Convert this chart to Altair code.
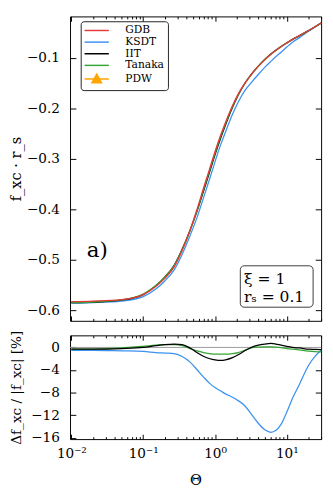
import altair as alt
import pandas as pd

# ---------------- data ----------------
theta = [0.01, 0.02, 0.05, 0.1, 0.15, 0.2, 0.27, 0.35, 0.45, 0.56, 0.7, 0.85,
         1.0, 1.2, 1.4, 1.75, 2.1, 2.6, 3.2, 4.0, 5.0, 6.0, 7.0, 8.3, 10, 12, 15, 20, 25, 30]
gdb = [-0.583, -0.582, -0.579, -0.569, -0.553, -0.537, -0.514, -0.481, -0.441, -0.401, -0.356, -0.318,
       -0.286, -0.253, -0.228, -0.195, -0.172, -0.150, -0.133, -0.117, -0.103, -0.093, -0.0855, -0.078,
       -0.0705, -0.0635, -0.056, -0.046, -0.038, -0.031]
ksdt = [-0.586, -0.585, -0.582, -0.573, -0.558, -0.542, -0.520, -0.489, -0.452, -0.417, -0.375, -0.338,
        -0.306, -0.272, -0.247, -0.212, -0.188, -0.165, -0.149, -0.133, -0.118, -0.107, -0.098, -0.089,
        -0.0785, -0.069, -0.060, -0.0475, -0.0386, -0.0312]
iit = [-0.585, -0.584, -0.580, -0.569, -0.5513, -0.5343, -0.5109, -0.4786, -0.4414, -0.4046, -0.3617,
       -0.3244, -0.2923, -0.2588, -0.2330, -0.1985, -0.1742, -0.1509, -0.133, -0.1165, -0.1024, -0.0923,
       -0.0850, -0.0777, -0.0704, -0.0635, -0.0561, -0.0461, -0.0381, -0.0311]
tanaka = [-0.5847, -0.5837, -0.5796, -0.5679, -0.5508, -0.5343, -0.5114, -0.4796, -0.4419, -0.4034,
          -0.3592, -0.3215, -0.2894, -0.2560, -0.2307, -0.1971, -0.1735, -0.1508, -0.1331, -0.117,
          -0.1029, -0.0929, -0.0855, -0.0780, -0.0706, -0.0637, -0.0563, -0.0463, -0.0383, -0.0312]
d_ksdt = [-0.5, -0.5, -0.6, -0.7, -0.9, -1.0, -1.1, -1.6, -2.6, -3.9, -5.3, -6.4, -7.1, -7.7, -8.2,
          -8.8, -9.4, -10.3, -11.8, -13.4, -14.6, -15.0, -14.7, -13.6, -11.4, -9.0, -6.5, -3.2, -1.5, -0.5]
d_iit = [-0.3, -0.3, -0.2, 0.0, 0.3, 0.5, 0.6, 0.5, -0.1, -0.9, -1.6, -2.0, -2.2, -2.3, -2.2,
         -1.8, -1.3, -0.6, 0.0, 0.4, 0.6, 0.7, 0.6, 0.4, 0.2, 0.0, -0.1, -0.3, -0.35, -0.4]
d_tanaka = [-0.3, -0.3, -0.1, 0.2, 0.4, 0.5, 0.5, 0.3, -0.2, -0.6, -0.9, -1.1, -1.2, -1.2, -1.2,
            -1.1, -0.9, -0.5, -0.1, 0.05, 0.1, 0.1, 0.05, -0.05, -0.2, -0.3, -0.45, -0.65, -0.75, -0.8]

series_names = ["GDB", "KSDT", "IIT", "Tanaka", "PDW"]
series_colors = ["#e23a36", "#3d92ef", "#000000", "#35a535", "#ffa500"]

x_major = [0.01, 0.1, 1, 10]
x_minor = [0.02, 0.03, 0.04, 0.05, 0.06, 0.07, 0.08, 0.09,
           0.2, 0.3, 0.4, 0.5, 0.6, 0.7, 0.8, 0.9,
           2, 3, 4, 5, 6, 7, 8, 9, 20, 30]
y_top_ticks = [-0.6, -0.5, -0.4, -0.3, -0.2, -0.1]
y_bot_ticks = [0, -4, -8, -12, -16]
y_bot_right_ticks = [-4, -8, -12]
zero_line = [0]

label_text = ["a)"]
info_lines = ["ξ = 1", "rₛ = 0.1"]

# ---------------- layout / style ----------------
FONT = "DejaVu Serif"
W = 259
H_TOP = 314
H_BOT = 107

x_scale = alt.Scale(type="log", domain=[0.0096, 30], nice=False)
y_top_scale = alt.Scale(domain=[-0.621, -0.018], nice=False, zero=False)
y_bot_scale = alt.Scale(domain=[-16.2, 2.13], nice=False, zero=False)

x_label_expr = ("datum.value < 0.05 ? '10⁻²' : datum.value < 0.5 ? '10⁻¹' : "
                "datum.value < 5 ? '10⁰' : '10¹'")

top_df = pd.concat([
    pd.DataFrame({"theta": theta, "value": vals, "series": name})
    for name, vals in [("KSDT", ksdt), ("IIT", iit), ("Tanaka", tanaka), ("GDB", gdb)]
], ignore_index=True)

bot_df = pd.concat([
    pd.DataFrame({"theta": theta, "value": vals, "series": name})
    for name, vals in [("KSDT", d_ksdt), ("Tanaka", d_tanaka), ("IIT", d_iit)]
], ignore_index=True)

line_path = "M-2.78,0H2.78"
tri_path = "M-2.78,0H2.78M0,-1.1L1.1,0.9L-1.1,0.9Z"
color_scale = alt.Scale(domain=series_names, range=series_colors)
shape_scale = alt.Scale(domain=series_names, range=[line_path] * 4 + [tri_path])

legend_def = alt.Legend(
    title=None, orient="none", legendX=11, legendY=5,
    labelFont=FONT, labelFontSize=11, labelColor="black",
    symbolSize=81, symbolStrokeWidth=1.5, symbolOffset=7,
    labelOffset=24, rowPadding=0, padding=4,
    strokeColor="#222222", cornerRadius=3, fillColor="white",
)


def tick_layer(df, yfield, yscale, x_orient, x_vals, x_size, y_orient=None, y_vals=None, y_size=6):
    x_axis = alt.Axis(orient=x_orient, values=x_vals, tickSize={"expr": str(-x_size)},
                      labels=False, domain=False, grid=False, title=None,
                      tickColor="black", tickWidth=1)
    if y_orient is not None:
        y_axis = alt.Axis(orient=y_orient, values=y_vals, tickSize={"expr": str(-y_size)},
                          labels=False, domain=False, grid=False, title=None,
                          tickColor="black", tickWidth=1)
        y_enc = alt.Y(yfield, scale=yscale, axis=y_axis)
    else:
        y_enc = alt.Y(yfield, scale=yscale, axis=None)
    return alt.Chart(df).mark_point(opacity=0).encode(
        x=alt.X("theta:Q", scale=x_scale, axis=x_axis), y=y_enc)


# ---------------- top panel ----------------
top_lines = alt.Chart(top_df).mark_line(strokeWidth=1.3, interpolate="monotone").encode(
    x=alt.X("theta:Q", scale=x_scale,
            axis=alt.Axis(orient="bottom", values=x_major, labels=False, ticks=False,
                          domain=False, grid=False, title=None)),
    y=alt.Y("value:Q", scale=y_top_scale,
            axis=alt.Axis(orient="left", values=y_top_ticks, format=".1f", ticks=False,
                          domain=False, grid=False, title="f_xc · r_s",
                          labelPadding=11, titleX=-48)),
    color=alt.Color("series:N", scale=color_scale, legend=legend_def),
)

legend_pts = alt.Chart(top_df).mark_point(filled=True, opacity=1, strokeWidth=1.5).encode(
    x=alt.X("theta:Q", scale=x_scale, axis=None),
    y=alt.Y("value:Q", scale=y_top_scale, axis=None),
    color=alt.Color("series:N", scale=color_scale, legend=legend_def),
    shape=alt.Shape("series:N", scale=shape_scale, legend=legend_def),
).transform_filter("datum.theta < 0")

box_df = pd.DataFrame({"x": [2.25], "x2": [23.2], "y": [-0.512], "y2": [-0.594]})
box = alt.Chart(box_df).mark_rect(fill="white", stroke="#222222", strokeWidth=0.9,
                                  cornerRadius=4).encode(
    x=alt.X("x:Q", scale=x_scale, axis=None), x2="x2:Q",
    y=alt.Y("y:Q", scale=y_top_scale, axis=None), y2="y2:Q")

info_df = pd.DataFrame({"x": [2.54, 2.54], "y": [-0.548, -0.583], "t": info_lines})
info = alt.Chart(info_df).mark_text(align="left", baseline="alphabetic", font=FONT,
                                    fontSize=16, color="black").encode(
    x=alt.X("x:Q", scale=x_scale, axis=None),
    y=alt.Y("y:Q", scale=y_top_scale, axis=None), text="t:N")

a_df = pd.DataFrame({"x": [0.0164], "y": [-0.495], "t": label_text})
a_lab = alt.Chart(a_df).mark_text(align="left", baseline="alphabetic", font=FONT,
                                  fontSize=22, color="black").encode(
    x=alt.X("x:Q", scale=x_scale, axis=None),
    y=alt.Y("y:Q", scale=y_top_scale, axis=None), text="t:N")

top = alt.layer(
    top_lines, legend_pts,
    tick_layer(top_df, "value:Q", y_top_scale, "bottom", x_major, 5, "left", y_top_ticks, 6),
    tick_layer(top_df, "value:Q", y_top_scale, "top", x_major, 5, "right", y_top_ticks, 6),
    tick_layer(top_df, "value:Q", y_top_scale, "bottom", x_minor, 2.5),
    tick_layer(top_df, "value:Q", y_top_scale, "top", x_minor, 2.5),
    box, info, a_lab,
).resolve_axis(x="independent", y="independent").properties(width=W, height=H_TOP)

# ---------------- bottom panel ----------------
zero_df = pd.DataFrame({"y": zero_line})
zero_rule = alt.Chart(zero_df).mark_rule(color="#999999", strokeWidth=1).encode(
    y=alt.Y("y:Q", scale=y_bot_scale, axis=None))

bot_color = alt.Scale(domain=series_names[:4], range=series_colors[:4])
bot_lines = alt.Chart(bot_df).mark_line(strokeWidth=1.3, interpolate="monotone").encode(
    x=alt.X("theta:Q", scale=x_scale,
            axis=alt.Axis(orient="bottom", values=x_major, labelExpr=x_label_expr, ticks=False,
                          domain=False, grid=False, title="Θ", labelPadding=8,
                          titlePadding=13)),
    y=alt.Y("value:Q", scale=y_bot_scale,
            axis=alt.Axis(orient="left", values=y_bot_ticks, format="d", ticks=False,
                          domain=False, grid=False, title="Δf_xc / |f_xc| [%]",
                          titleFontSize=14, labelPadding=11, titleX=-48)),
    color=alt.Color("series:N", scale=bot_color, legend=None),
)

bottom = alt.layer(
    zero_rule, bot_lines,
    tick_layer(bot_df, "value:Q", y_bot_scale, "bottom", x_major, 5, "left", y_bot_ticks, 6),
    tick_layer(bot_df, "value:Q", y_bot_scale, "top", x_major, 5, "right", y_bot_right_ticks, 6),
    tick_layer(bot_df, "value:Q", y_bot_scale, "bottom", x_minor, 2.5),
    tick_layer(bot_df, "value:Q", y_bot_scale, "top", x_minor, 2.5),
).resolve_axis(x="independent", y="independent").properties(width=W, height=H_BOT)

chart = alt.vconcat(top, bottom, spacing=15, bounds="flush").resolve_scale(
    color="independent", shape="independent"
).properties(
    padding={"left": 0, "top": 0, "right": 0, "bottom": 0}
).configure_view(
    stroke="black", strokeWidth=1
).configure_axis(
    labelFont=FONT, labelFontSize=14, labelColor="black",
    titleFont=FONT, titleFontSize=15, titleFontWeight="normal", titleColor="black",
    minExtent=0, grid=False
)

chart.save("out.html", embed_options={"renderer": "svg", "actions": False})
